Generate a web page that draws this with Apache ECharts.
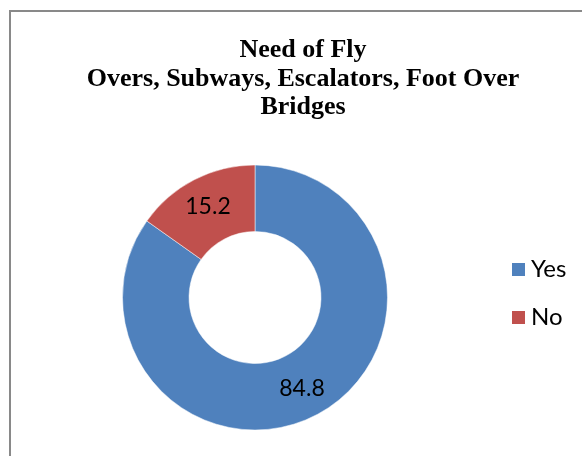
<!DOCTYPE html>
<html>
<head>
<meta charset="utf-8">
<script src="https://cdn.jsdelivr.net/npm/echarts@6/dist/echarts.min.js"></script>
<style>html,body{margin:0;padding:0;background:#fff;}#c{width:582px;height:456px;}</style>
</head>
<body>
<div id="c"></div>
<script>
var categories = ['Yes', 'No'];
var values = [84.8, 15.2];
var colors = ['#4F81BD', '#C0504D'];
var titleText = 'Need of Fly\nOvers, Subways, Escalators, Foot Over\nBridges';

var chart = echarts.init(document.getElementById('c'));
chart.setOption({
  animation: false,
  backgroundColor: '#fff',
  graphic: [{
    type: 'rect',
    shape: { x: 10, y: 11, width: 700, height: 600 },
    style: { fill: 'none', stroke: '#898989', lineWidth: 2 },
    silent: true
  }],
  title: {
    text: titleText,
    left: 303,
    top: 36.5,
    padding: 0,
    textAlign: 'center',
    textStyle: {
      fontFamily: 'Liberation Serif',
      fontWeight: 'bold',
      fontSize: 26,
      lineHeight: 28.3,
      color: '#000',
      align: 'center'
    }
  },
  legend: {
    orient: 'vertical',
    left: 510,
    top: 256.5,
    padding: 0,
    itemWidth: 15,
    itemHeight: 15,
    itemGap: 22,
    icon: 'rect',
    data: categories,
    textStyle: { fontFamily: 'Lato', fontSize: 24, lineHeight: 26, color: '#000' }
  },
  series: [{
    type: 'pie',
    center: [255, 297.5],
    radius: [66, 132.5],
    startAngle: 90,
    clockwise: true,
    label: {
      show: true,
      position: 'inside',
      fontFamily: 'Lato',
      fontSize: 23,
      color: '#000',
      formatter: function (p) { return p.value.toFixed(1); }
    },
    labelLine: { show: false },
    itemStyle: { borderColor: '#fff', borderWidth: 0.5 },
    emphasis: { disabled: true },
    data: categories.map(function (c, i) {
      return { name: c, value: values[i], itemStyle: { color: colors[i] } };
    })
  }]
});
</script>
</body>
</html>
